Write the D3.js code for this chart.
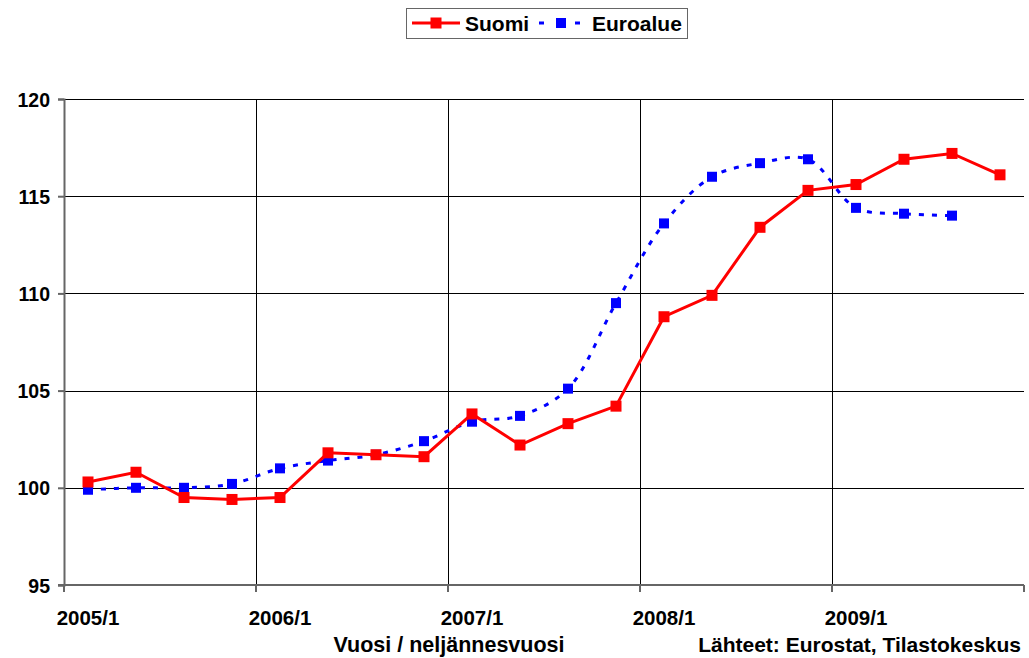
<!DOCTYPE html>
<html><head><meta charset="utf-8">
<script src="https://cdn.jsdelivr.net/npm/d3@7"></script>
<style>body{margin:0;background:#fff}svg{display:block}svg text{font-family:"Liberation Sans",Arial,sans-serif;font-weight:bold;fill:#000}</style>
</head><body><svg id="c" width="1029" height="658"></svg>
<script>
const quarters = ["2005/1","2005/2","2005/3","2005/4","2006/1","2006/2","2006/3","2006/4","2007/1","2007/2","2007/3","2007/4","2008/1","2008/2","2008/3","2008/4","2009/1","2009/2","2009/3","2009/4"];
const suomi = [100.3,100.8,99.5,99.4,99.5,101.8,101.7,101.6,103.8,102.2,103.3,104.2,108.8,109.9,113.4,115.3,115.6,116.9,117.2,116.1];
const euroalue = [99.9,100.0,100.0,100.2,101.0,101.4,101.7,102.4,103.4,103.7,105.1,109.5,113.6,116.0,116.7,116.9,114.4,114.1,114.0,null];
const yTicks = [95,100,105,110,115,120];
const xLabels = ["2005/1","2006/1","2007/1","2008/1","2009/1"];

const svg = d3.select("#c");
const L=64, R=1024, T=99, B=585;
const x = d3.scaleBand().domain(quarters).range([L,R]);
const y = d3.scaleLinear().domain([95,120]).range([B,T]);
const cx = d => x(d) + x.bandwidth()/2;
const bold = s => s.style("font-weight","bold").style("font-family","'Liberation Sans', Arial, sans-serif");

// horizontal grid
svg.append("g").selectAll("line").data(yTicks.filter(v=>v>95)).join("line")
  .attr("x1",L).attr("x2",R).attr("y1",d=>Math.round(y(d))+0.5).attr("y2",d=>Math.round(y(d))+0.5)
  .attr("stroke","#000").attr("stroke-width",1);
// vertical grid at year boundaries
const yearStarts = quarters.filter((q,i)=>i%4===0 && i>0);
svg.append("g").selectAll("line").data(yearStarts).join("line")
  .attr("x1",d=>x(d)+0.5).attr("x2",d=>x(d)+0.5).attr("y1",T).attr("y2",B)
  .attr("stroke","#000").attr("stroke-width",1);

// y axis
const yAxis = svg.append("g").attr("transform",`translate(${L},0)`)
  .call(d3.axisLeft(y).tickValues(yTicks).tickSize(6).tickPadding(8));
yAxis.select(".domain").attr("stroke","#666").attr("stroke-width",2);
yAxis.selectAll(".tick line").attr("stroke","#666").attr("stroke-width",2);
yAxis.selectAll("text").attr("font-size",19.5).attr("dy","0.36em").call(bold);

// x axis
const xg = svg.append("g");
xg.append("line").attr("x1",L-6).attr("x2",R).attr("y1",B).attr("y2",B).attr("stroke","#666").attr("stroke-width",2);
const tickPos = quarters.filter((q,i)=>i%4===0).map(q=>x(q)).concat([R]);
xg.selectAll("line.t").data(tickPos).join("line").attr("class","t")
  .attr("x1",d=>d).attr("x2",d=>d).attr("y1",B).attr("y2",B+7).attr("stroke","#666").attr("stroke-width",2);
xg.selectAll("text").data(xLabels).join("text")
  .attr("x",d=>cx(d)).attr("y",625).attr("text-anchor","middle").attr("font-size",20.5).text(d=>d).call(bold);

svg.append("text").attr("x",449).attr("y",652).attr("text-anchor","middle").attr("font-size",21.5).text("Vuosi / neljännesvuosi").call(bold);
svg.append("text").attr("x",1021).attr("y",652).attr("text-anchor","end").attr("font-size",21).text("Lähteet: Eurostat, Tilastokeskus").call(bold);

// series
const sData = quarters.map((q,i)=>({q,v:suomi[i]}));
const eData = quarters.map((q,i)=>({q,v:euroalue[i]})).filter(d=>d.v!=null);

svg.append("path").datum(eData)
  .attr("d",d3.line().x(d=>cx(d.q)).y(d=>y(d.v)).curve(d3.curveCatmullRom.alpha(0.5)))
  .attr("fill","none").attr("stroke","#0000ff").attr("stroke-width",3).attr("stroke-dasharray","5,8");
svg.append("g").selectAll("rect").data(eData).join("rect")
  .attr("x",d=>cx(d.q)-5).attr("y",d=>y(d.v)-5).attr("width",10).attr("height",10).attr("fill","#0000ff");

svg.append("path").datum(sData)
  .attr("d",d3.line().x(d=>cx(d.q)).y(d=>y(d.v)))
  .attr("fill","none").attr("stroke","#ff0000").attr("stroke-width",3);
svg.append("g").selectAll("rect").data(sData).join("rect")
  .attr("x",d=>cx(d.q)-5.5).attr("y",d=>y(d.v)-5.5).attr("width",11).attr("height",11).attr("fill","#ff0000");

// legend
const lg = svg.append("g");
lg.append("rect").attr("x",406.5).attr("y",8.5).attr("width",281).attr("height",30).attr("fill","#fff").attr("stroke","#666").attr("stroke-width",1);
lg.append("line").attr("x1",412).attr("x2",460).attr("y1",23).attr("y2",23).attr("stroke","#ff0000").attr("stroke-width",3);
lg.append("rect").attr("x",430.5).attr("y",17.5).attr("width",11).attr("height",11).attr("fill","#ff0000");
lg.append("text").attr("x",465).attr("y",31).attr("font-size",21).text("Suomi").call(bold);
lg.append("line").attr("x1",539).attr("x2",580).attr("y1",23).attr("y2",23).attr("stroke","#0000ff").attr("stroke-width",3).attr("stroke-dasharray","5,13");
lg.append("rect").attr("x",556).attr("y",18).attr("width",10).attr("height",10).attr("fill","#0000ff");
lg.append("text").attr("x",592).attr("y",31).attr("font-size",21).text("Euroalue").call(bold);
</script></body></html>
